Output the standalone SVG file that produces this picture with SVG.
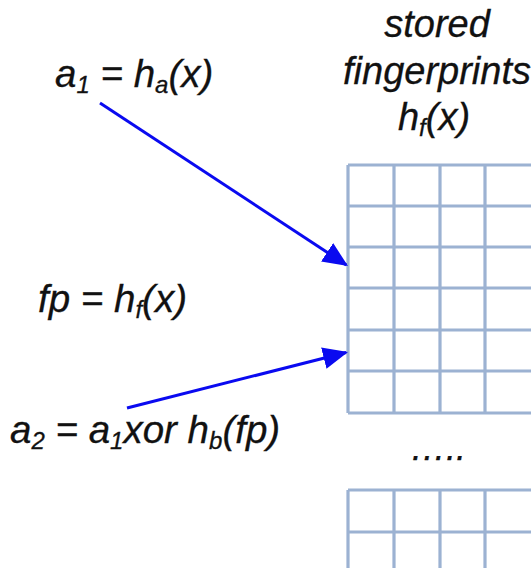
<svg xmlns="http://www.w3.org/2000/svg" width="531" height="568" viewBox="0 0 531 568">
  <style>
    .t { font-family: "Liberation Sans", Arial, sans-serif; font-style: italic; font-size: 38.5px; fill: #111; stroke: #111; stroke-width: 0.3; }
    .h { font-family: "Liberation Sans", Arial, sans-serif; font-style: italic; font-size: 38px; fill: #111; stroke: #111; stroke-width: 0.3; text-anchor: middle; }
    .sub { font-size: 24px; }
    .grid { fill: none; stroke: #9cb2d2; stroke-width: 3.2; }
    .arrow { fill: none; stroke: #0a0af0; stroke-width: 3; marker-end: url(#ah); }
  </style>
  <defs>
    <marker id="ah" markerUnits="userSpaceOnUse" viewBox="0 0 25 22" refX="23" refY="11" markerWidth="25" markerHeight="22" orient="auto">
      <path d="M0,0 L25,11 L0,22 Z" fill="#0a0af0"/>
    </marker>
  </defs>
  <rect width="531" height="568" fill="#ffffff"/>

  <g id="header">
    <text class="h" x="437" y="37">stored</text>
    <text class="h" x="437" y="84">fingerprints</text>
    <text class="h" x="434" y="130">h<tspan class="sub" dy="6">f</tspan><tspan dy="-6">(x)</tspan></text>
  </g>

  <g id="label-a1">
    <text class="t" x="55" y="87">a<tspan class="sub" dy="6">1</tspan><tspan dy="-6"> = h</tspan><tspan class="sub" dy="6">a</tspan><tspan dy="-6">(x)</tspan></text>
  </g>

  <g id="label-fp">
    <text class="t" x="38" y="312">fp = h<tspan class="sub" dy="6">f</tspan><tspan dy="-6">(x)</tspan></text>
  </g>

  <g id="label-a2">
    <text class="t" x="10" y="443">a<tspan class="sub" dy="6">2</tspan><tspan dy="-6"> = a</tspan><tspan class="sub" dy="6">1</tspan><tspan dy="-6">xor h</tspan><tspan class="sub" dy="6">b</tspan><tspan dy="-6">(fp)</tspan></text>
  </g>

  <g id="table1">
    <path class="grid" d="M348,165 H540 M348,206 H540 M348,247 H540 M348,288 H540 M348,330 H540 M348,371 H540 M348,413 H540 M348,165 V413 M394,165 V413 M440,165 V413 M485,165 V413"/>
  </g>

  <g id="ellipsis">
    <text class="t" x="438" y="460" text-anchor="middle" style="font-size:36px">…..</text>
  </g>

  <g id="table2">
    <path class="grid" d="M348,490 H540 M348,532 H540 M348,490 V580 M394,490 V580 M440,490 V580 M485,490 V580"/>
  </g>

  <g id="connectors">
    <line class="arrow" x1="100" y1="103" x2="346.3" y2="264.9"/>
    <line class="arrow" x1="127" y1="408" x2="346.1" y2="352.5"/>
  </g>
</svg>
